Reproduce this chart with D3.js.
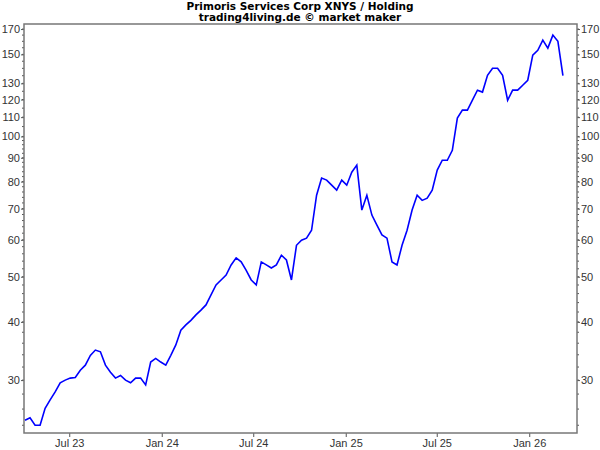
<!DOCTYPE html>
<html><head><meta charset="utf-8">
<script src="https://cdn.jsdelivr.net/npm/d3@7"></script>
<style>body{margin:0;background:#fff}</style>
</head><body>
<svg id="chart" width="600" height="450"></svg>
<script>
// Price series: regular 10-day samples starting at startDate
const startDate = "2023-04-04";
const stepDays = 10;
const prices = [24.6,24.9,24.0,24.0,26.1,27.2,28.3,29.6,30,30.3,30.4,31.5,32.3,33.9,34.8,34.5,32.3,31.2,30.3,30.7,
  30,29.6,30.3,30.3,29.3,32.8,33.4,32.8,32.3,33.9,35.7,38.4,39.4,40.3,41.4,42.4,43.5,45.7,48.0,49.2,
  50.4,53.0,54.9,53.8,51.6,49.2,48.0,53.8,53.0,52.2,53.0,55.6,54.3,49.2,58.4,59.9,60.5,62.9,74.8,81.4,
  80.6,78.6,76.7,80.6,78.6,83.8,86.8,69.5,74.8,67.8,64.5,61.5,60.5,53.8,53.0,58.4,62.9,69.5,74.8,72.9,
  73.7,76.7,84.7,88.9,88.9,93.4,109.5,113.9,113.9,119.6,125.7,124.5,135.3,140.1,140.1,135.3,119.6,125.7,125.7,128.8,
  132,149.5,153,161,154.7,165,160,135];
const yTicks = [30,40,50,60,70,80,90,100,110,120,130,150,170];
const xTicks = ["2023-07-01","2024-01-01","2024-07-01","2025-01-01","2025-07-01","2026-01-01"];
const xTickLabels = ["Jul 23","Jan 24","Jul 24","Jan 25","Jul 25","Jan 26"];
const titleLines = ["Primoris Services Corp XNYS / Holding", "trading4living.de © market maker"];

const svg = d3.select("#chart");
const margin = {top: 24, right: 23, bottom: 17, left: 24};
const width = 600 - margin.left - margin.right;
const height = 450 - margin.top - margin.bottom;

const parse = d3.timeParse("%Y-%m-%d");
const t0 = parse(startDate);
const data = prices.map((v, i) => ({date: d3.timeDay.offset(t0, i * stepDays), value: v}));

const x = d3.scaleTime()
  .domain([parse("2023-04-02"), parse("2026-04-06")])
  .range([0, width]);
const y = d3.scaleLog()
  .domain([23.1, 174.3])
  .range([height, 0]);

const chart = svg.append("g").attr("transform", `translate(${margin.left},${margin.top})`);

// title
svg.selectAll(".title").data(titleLines).join("text")
  .attr("x", 300).attr("y", (d, i) => 10 + i * 11)
  .attr("text-anchor", "middle")
  .attr("font-family", "DejaVu Sans, Verdana, sans-serif")
  .attr("font-size", "10.5px").attr("font-weight", "bold")
  .attr("fill", "#000")
  .text(d => d);

// minor ticks
const minor = d3.range(24, 100, 2).concat(d3.range(100, 175, 5));
[0, width].forEach((xx, side) => {
  chart.selectAll(null).data(minor).join("line")
    .attr("x1", xx).attr("x2", side ? xx + 2 : xx - 2)
    .attr("y1", d => y(d)).attr("y2", d => y(d))
    .attr("stroke", "#555").attr("stroke-width", 1);
});

const fontAttrs = s => s.attr("font-family", "Liberation Sans, Arial, sans-serif")
  .attr("font-size", "11px").attr("fill", "#333");

// left and right axes
const yl = chart.append("g")
  .call(d3.axisLeft(y).tickValues(yTicks).tickFormat(d3.format("d")).tickSize(3).tickPadding(1));
const yr = chart.append("g").attr("transform", `translate(${width},0)`)
  .call(d3.axisRight(y).tickValues(yTicks).tickFormat(d3.format("d")).tickSize(3).tickPadding(1));
const xa = chart.append("g").attr("transform", `translate(0,${height})`)
  .call(d3.axisBottom(x).tickValues(xTicks.map(parse)).tickFormat((d, i) => xTickLabels[i]).tickSize(4).tickPadding(2));
[yl, yr, xa].forEach(g => {
  g.select(".domain").remove();
  g.selectAll("line").attr("stroke", "#555");
  g.selectAll("text").call(fontAttrs);
});

// frame
chart.append("rect").attr("width", width).attr("height", height)
  .attr("fill", "none").attr("stroke", "#777").attr("stroke-width", 1.5);

// price line
chart.append("path").datum(data)
  .attr("fill", "none").attr("stroke", "#0000ff").attr("stroke-width", 1.6)
  .attr("d", d3.line().x(d => x(d.date)).y(d => y(d.value)));
</script>
</body></html>
